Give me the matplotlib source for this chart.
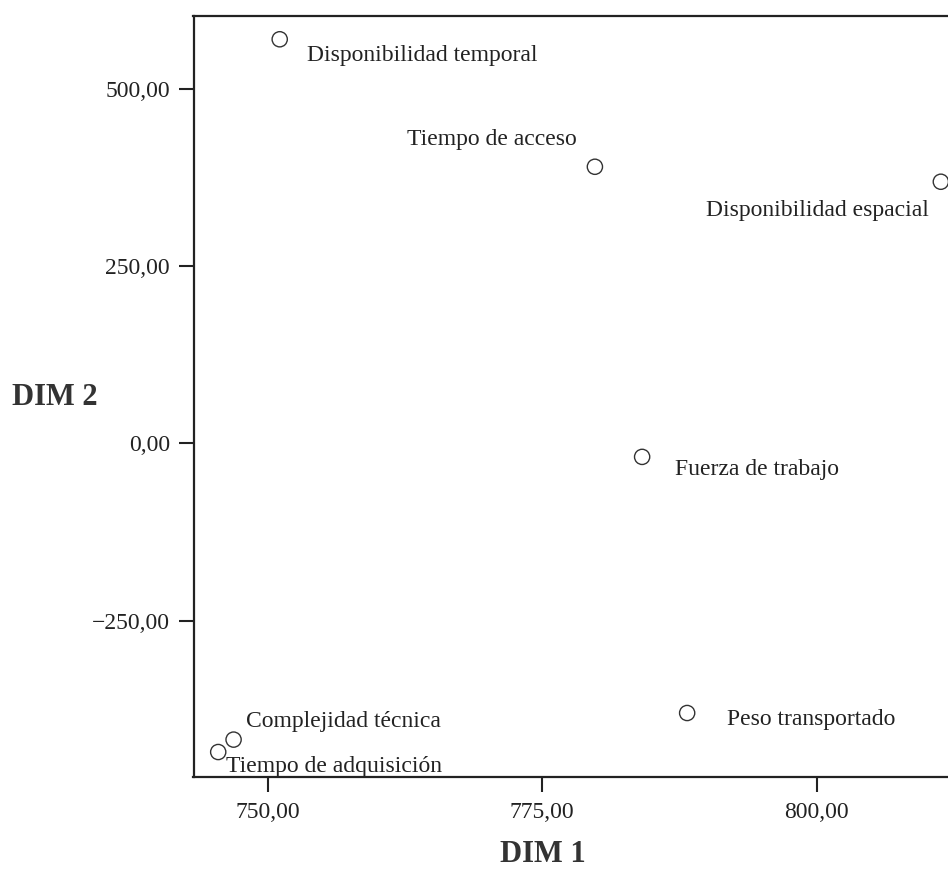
#----------------------------------------------------------------------------------------------------------------------
# Imports

import matplotlib
matplotlib.use("Agg")
import matplotlib.pyplot as plt
from matplotlib.ticker import FuncFormatter

#----------------------------------------------------------------------------------------------------------------------
# Data

labels = ["Disponibilidad temporal", "Tiempo de acceso", "Disponibilidad espacial", "Fuerza de trabajo",
          "Peso transportado", "Complejidad técnica", "Tiempo de adquisición"]
dim1 = [751.1, 779.8, 811.3, 784.1, 788.2, 746.9, 745.5]
dim2 = [569.7, 390.0, 368.9, -18.9, -379.9, -417.4, -434.9]

x_ticks = [750, 775, 800]
y_ticks = [-250, 0, 250, 500]

# label offsets in pixels (dx, dy) and horizontal alignment
offsets = [(27, -22, "left"), (-18, 22, "right"), (-12, -34, "right"), (33, -18, "left"),
           (40, -12, "left"), (12, 13, "left"), (8, -20, "left")]

#----------------------------------------------------------------------------------------------------------------------
# Plot

plt.rcParams["font.family"] = ["Liberation Serif", "DejaVu Serif"]
ink = "#222222"

fig = plt.figure(figsize=(9.48, 8.71), dpi=100)
ax = fig.add_axes([193.5 / 948, (871 - 777) / 871, (965 - 193.5) / 948, (777 - 16) / 871])

ax.scatter(dim1, dim2, s=120, facecolors="none", edgecolors="#333333", linewidths=1.0, zorder=3)

for name, x, y, (dx, dy, ha) in zip(labels, dim1, dim2, offsets):
    ax.annotate(name, (x, y), xytext=(dx, dy), textcoords="offset pixels",
                ha=ha, va="baseline", fontsize=17, color=ink)

ax.set_xlim(743.25, 813.5)
ax.set_ylim(-470.1, 602.5)
ax.set_xticks(x_ticks)
ax.set_yticks(y_ticks)
fmt = FuncFormatter(lambda v, p: ("%.2f" % v).replace(".", ",").replace("-", "\u2212"))
ax.xaxis.set_major_formatter(fmt)
ax.yaxis.set_major_formatter(fmt)
ax.tick_params(direction="out", length=11, width=1.5, labelsize=17, colors=ink)
ax.tick_params(axis="y", pad=6)
ax.tick_params(axis="x", pad=7)

for side in ["left", "bottom", "top", "right"]:
    ax.spines[side].set_linewidth(1.6)
    ax.spines[side].set_color(ink)

fig.text(543 / 948, (871 - 862) / 871, "DIM 1", ha="center", va="baseline",
         fontsize=22, fontweight="bold", color="#333333")
fig.text(12 / 948, (871 - 405) / 871, "DIM 2", ha="left", va="baseline",
         fontsize=22, fontweight="bold", color="#333333")

fig.savefig("out.png", dpi=100)
